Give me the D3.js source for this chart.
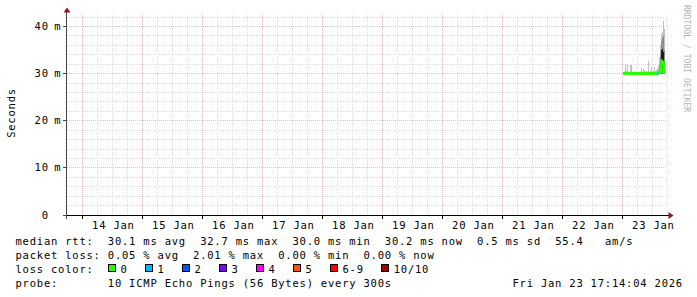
<!DOCTYPE html>
<html>
<head>
<meta charset="utf-8">
<title>SmokePing - 10 days</title>
<script src="https://cdn.jsdelivr.net/npm/d3@7"></script>
<style>
body { margin: 0; background: #fff; }
svg text {
  font-family: "DejaVu Sans Mono", monospace;
  font-size: 10.5px;
  letter-spacing: 0.78px;
  fill: #000;
  white-space: pre;
}
</style>
</head>
<body>
<svg id="chart" width="697" height="297"></svg>
<script>

// x axis labels (one per day, drawn at noon)
var dayLabels = ["14 Jan", "15 Jan", "16 Jan", "17 Jan", "18 Jan", "19 Jan", "20 Jan", "21 Jan", "22 Jan", "23 Jan"];
var yTicks = [0, 10, 20, 30, 40];

// samples of 23 Jan (one per 24 min)
var sampleTimes = ["00:24","00:48","01:12","01:36","02:00","02:24","02:48","03:12","03:36","04:00",
                   "04:24","04:48","05:12","05:36","06:00","06:24","06:48","07:12","07:36","08:00",
                   "08:24","08:48","09:12","09:36","10:00","10:24","10:48","11:12","11:36","12:00",
                   "12:24","12:48","13:12","13:36","14:00","14:24","14:48","15:12","15:36","16:00",
                   "16:24","16:48"];
// median rtt, ms
var median   = [30.0,30.0,30.1,30.0,30.1,30.0,30.0,30.1,30.1,30.0,
                30.0,30.0,30.0,30.0,30.0,30.0,30.0,30.0,30.1,30.0,
                30.0,30.0,30.0,30.0,30.0,30.1,30.0,30.0,30.1,30.0,
                30.0,30.0,30.0,30.0,30.0,30.1,30.3,30.5,31.8,32.7,
                32.2,30.2];
// smoke: slowest / fastest ping and the inner bands, ms
var smokeMax = [30.3,30.4,32.0,30.5,32.0,30.3,30.4,31.8,31.8,30.4,
                30.3,30.2,30.3,30.4,30.3,30.2,30.3,30.4,31.1,30.4,
                30.9,30.8,30.3,30.5,30.4,32.7,30.4,30.5,31.5,30.4,
                30.6,31.3,30.5,30.8,31.0,31.6,33.5,36.0,38.5,38.8,
                41.2,39.5];
var midHi    = [30.2,30.2,30.3,30.2,30.3,30.2,30.2,30.3,30.3,30.2,
                30.2,30.2,30.2,30.2,30.2,30.2,30.2,30.2,30.3,30.2,
                30.2,30.2,30.2,30.2,30.2,30.3,30.2,30.2,30.3,30.2,
                30.2,30.2,30.2,30.2,30.2,30.3,32.0,34.0,37.0,37.5,
                38.0,35.0];
var coreHi   = [30.1,30.1,30.2,30.1,30.2,30.1,30.1,30.2,30.2,30.1,
                30.1,30.1,30.1,30.1,30.1,30.1,30.1,30.1,30.2,30.1,
                30.1,30.1,30.1,30.1,30.1,30.2,30.1,30.1,30.2,30.1,
                30.1,30.1,30.1,30.1,30.1,30.2,30.8,31.8,35.0,35.2,
                34.5,31.5];
var coreLo   = [30.0,30.0,30.0,30.0,30.0,30.0,30.0,30.0,30.0,30.0,
                30.0,30.0,30.0,30.0,30.0,30.0,30.0,30.0,30.0,30.0,
                30.0,30.0,30.0,30.0,30.0,30.0,30.0,30.0,30.0,30.0,
                30.0,30.0,30.0,30.0,30.0,30.0,30.1,30.3,30.8,31.0,
                30.6,30.2];
var smokeMin = [29.9,29.9,29.9,29.9,29.9,29.9,29.9,29.9,29.9,29.9,
                29.9,29.9,29.9,29.9,29.9,29.9,29.9,29.9,29.9,29.9,
                29.9,29.9,29.9,29.9,29.9,29.9,29.9,29.9,29.9,29.9,
                29.9,29.9,29.9,29.9,29.9,29.9,29.9,29.9,30.0,30.0,
                30.0,29.9];
// lost pings out of 10
var loss     = [0,0,0,0,0,0,0,0,0,0, 0,0,0,0,0,0,0,0,0,0,
                0,0,0,0,0,0,0,0,0,0, 0,0,0,0,0,1,0,0,0,0, 0,0];

var lossLabels = ["0", "1", "2", "3", "4", "5", "6-9", "10/10"];
var lossColors = ["#26ff00", "#00b8ff", "#0059ff", "#7e00ff", "#ff00ff", "#ff5500", "#ff0000", "#a10000"];

var legendRows = [
  "median rtt:  30.1 ms avg  32.7 ms max  30.0 ms min  30.2 ms now  0.5 ms sd  55.4   am/s",
  "packet loss: 0.05 % avg  2.01 % max  0.00 % min  0.00 % now",
  "loss color:",
  "probe:       10 ICMP Echo Pings (56 Bytes) every 300s"
];
var stamp = "Fri Jan 23 17:14:04 2026";

var CH = 7.1; // char advance

var svg = d3.select("#chart");

var x = d3.scaleTime()
    .domain([new Date(2026, 0, 13, 18, 0), new Date(2026, 0, 23, 18, 0)])
    .range([67, 667]);
var y = d3.scaleLinear()
    .domain([0, 42.44])
    .range([215, 15]);

function py(v) { return Math.floor(y(v)) + 0.5; }
function px(t) { return Math.round(x(t)) + 0.5; }

// grid
var grid = svg.append("g").attr("shape-rendering", "crispEdges");
d3.range(2, 43, 2).forEach(function(v) {
  if (v % 10 == 0) return;
  grid.append("line").attr("x1", 67).attr("x2", 667).attr("y1", py(v)).attr("y2", py(v))
      .attr("stroke", "#dcdcdc").attr("stroke-dasharray", "1,1");
});
d3.timeHour.every(6).range(x.domain()[0], new Date(2026, 0, 23, 18, 1)).forEach(function(t) {
  if (t.getHours() == 0 || x(t) <= 67) return;
  grid.append("line").attr("x1", px(t)).attr("x2", px(t)).attr("y1", 14).attr("y2", 215)
      .attr("stroke", "#dcdcdc").attr("stroke-dasharray", "1,1");
});
yTicks.forEach(function(v) {
  if (v == 0) return;
  grid.append("line").attr("x1", 67).attr("x2", 667).attr("y1", py(v)).attr("y2", py(v))
      .attr("stroke", "#f3b9b9").attr("stroke-dasharray", "1,1");
});
var midnights = d3.timeDay.range(new Date(2026, 0, 14), new Date(2026, 0, 23, 18));
midnights.forEach(function(t) {
  grid.append("line").attr("x1", px(t)).attr("x2", px(t)).attr("y1", 14).attr("y2", 215)
      .attr("stroke", "#f3b9b9").attr("stroke-dasharray", "1,1");
});

// smoke
var parse = d3.timeParse("%Y-%m-%d %H:%M");
var times = sampleTimes.map(function(s) { return parse("2026-01-23 " + s); });
var smoke = svg.append("g").attr("shape-rendering", "crispEdges");
function band(lo, hi, color) {
  smoke.selectAll(null).data(times).enter().append("rect")
      .attr("x", function(t) { return x(t); })
      .attr("width", function(t) { return x(d3.timeMinute.offset(t, 24)) - x(t); })
      .attr("y", function(t, i) { return y(hi[i]); })
      .attr("height", function(t, i) { return Math.max(0, y(lo[i]) - y(hi[i])); })
      .attr("fill", color);
}
band(smokeMin, smokeMax, "#c0c0c0");
band(smokeMin, midHi, "#8c8c8c");
band(coreLo, coreHi, "#1c1c1c");

// median line coloured by loss
function lossBucket(n) { return n >= 10 ? 7 : (n >= 6 ? 6 : n); }
var med = svg.append("g");
times.forEach(function(t, i) {
  var x0 = x(t), x1 = x(d3.timeMinute.offset(t, 24));
  var y0 = i > 0 ? y(median[i - 1]) : y(median[i]);
  med.append("path")
      .attr("d", "M" + x0 + "," + y0 + "V" + y(median[i]) + "H" + x1)
      .attr("fill", "none")
      .attr("stroke", lossColors[lossBucket(loss[i])])
      .attr("stroke-width", 3);
});

// axes
var axis = svg.append("g").attr("shape-rendering", "crispEdges");
axis.append("line").attr("x1", 66.5).attr("x2", 66.5).attr("y1", 219).attr("y2", 11).attr("stroke", "#444");
axis.append("line").attr("x1", 63).attr("x2", 670).attr("y1", 215.5).attr("y2", 215.5).attr("stroke", "#000");
yTicks.forEach(function(v) {
  axis.append("line").attr("x1", 63).attr("x2", 67).attr("y1", py(v)).attr("y2", py(v)).attr("stroke", "#444");
});
midnights.forEach(function(t) {
  axis.append("line").attr("x1", px(t)).attr("x2", px(t)).attr("y1", 215).attr("y2", 219).attr("stroke", "#000");
});
svg.append("path").attr("d", "M67,7.5L70.5,12.5L63.5,12.5Z").attr("fill", "#8b1c1c");
svg.append("path").attr("d", "M673.5,215.5L668.5,212L668.5,219Z").attr("fill", "#8b1c1c");

// y labels
yTicks.forEach(function(v) {
  var s = String(v);
  svg.append("text").attr("x", 41.7 - (s.length - 1) * CH).attr("y", py(v) + 3.6).text(s);
  if (v != 0) svg.append("text").attr("x", 54.3).attr("y", py(v) + 3.6).text("m");
});

// x labels
dayLabels.forEach(function(d, i) {
  var noon = new Date(2026, 0, 14 + i, 12);
  svg.append("text").attr("x", x(noon) + 1.4).attr("y", 228.8)
      .attr("text-anchor", "middle").text(d);
});

svg.append("text")
    .attr("transform", "translate(14.5,113) rotate(-90)")
    .attr("text-anchor", "middle")
    .text("Seconds");

svg.append("text")
    .attr("transform", "translate(684.3,5) rotate(90)")
    .style("font-size", "8.1px").style("letter-spacing", "0px")
    .style("fill", "#b4b4b4")
    .text("RRDTOOL / TOBI OETIKER");

// legend
var rowY = [245, 259, 273, 287];
legendRows.forEach(function(r, i) {
  svg.append("text").attr("x", 15.5).attr("y", rowY[i]).text(r);
});
svg.append("text").attr("x", 15.5 + 70 * CH).attr("y", rowY[3]).text(stamp);

var lx = 108;
lossLabels.forEach(function(l, i) {
  svg.append("rect").attr("x", lx + 0.5).attr("y", 264.5).attr("width", 7).attr("height", 7)
      .attr("fill", lossColors[i]).attr("stroke", "#000").attr("shape-rendering", "crispEdges");
  svg.append("text").attr("x", lx + 12.5).attr("y", rowY[2]).text(l);
  lx += 29.9 + l.length * CH;
});

</script>
</body>
</html>
